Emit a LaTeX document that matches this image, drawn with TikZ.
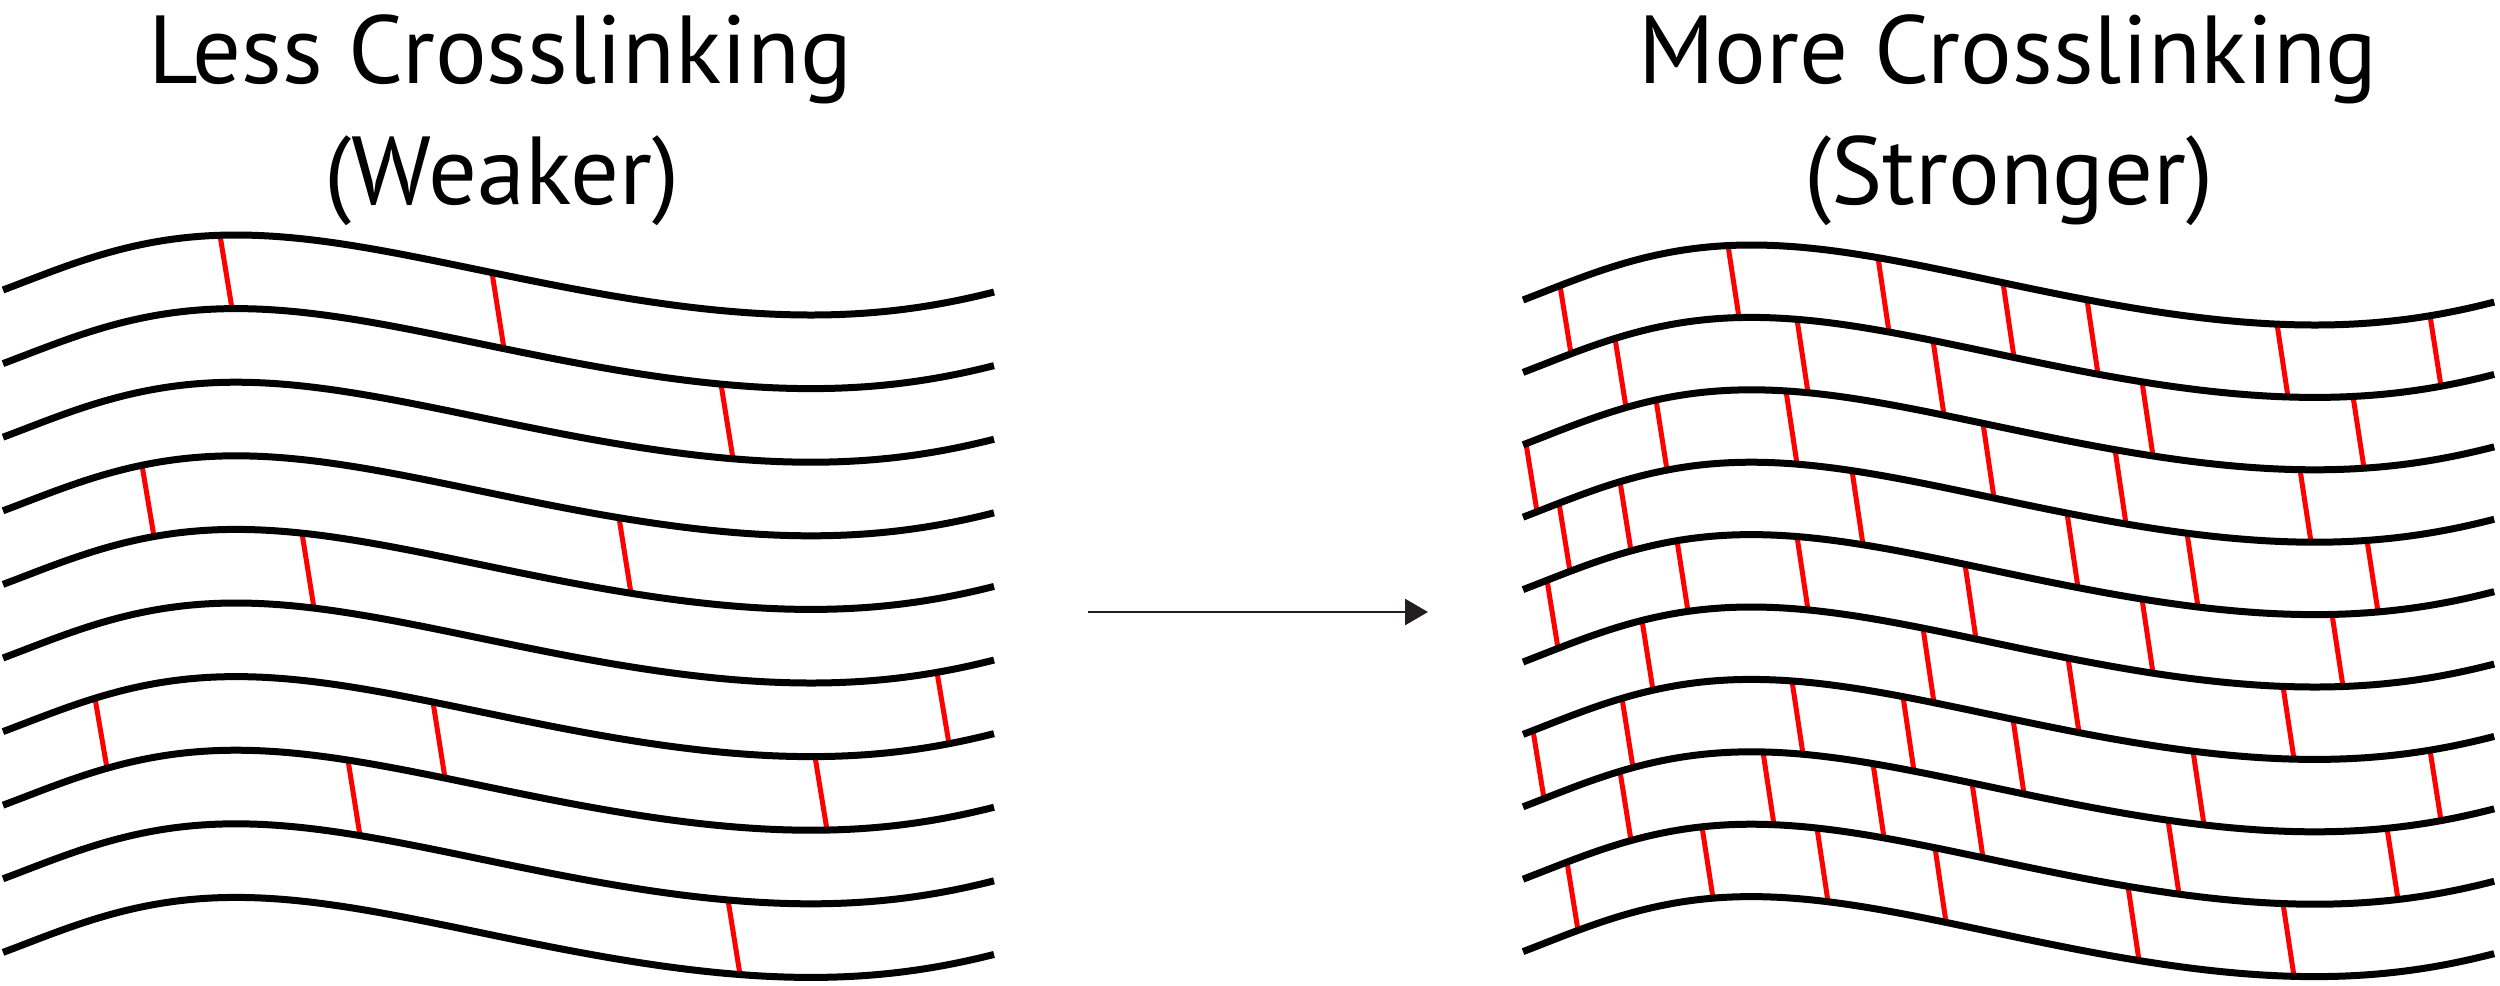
\documentclass[tikz,border=0pt]{standalone}
\usepackage{fontspec}
\setmainfont{PT Sans}
\usetikzlibrary{arrows.meta}
\definecolor{linkred}{RGB}{255,0,0}
\definecolor{arrowgray}{RGB}{35,31,32}
\tikzset{
  declare function={
    wph(\u) = -112 + 578.735*(\u/1000) - 482.3*(\u/1000)^2 + 264.0*(\u/1000)^3;
    wv(\u) = -15-40*cos(wph(\u));
  },
  wave/.style={line width=0.14cm, black},
  xlink/.style={line width=0.1cm, linkred},
  titletext/.style={font=\fontsize{55}{60}\selectfont, anchor=base, inner sep=0pt},
  flowarrow/.style={line width=0.054cm, arrowgray, -{Triangle[length=0.46cm,width=0.52cm]}}
}
% left panel crosslink: gap index, x of top end
\newcommand\Llink[2]{\draw[xlink] ({#2},{290+(#1-1)*73.6+wv(#2-3)}) -- ({#2+12},{290+#1*73.6+wv(#2+9)});}
% right panel crosslink
\newcommand\Rlink[2]{\draw[xlink] ({#2},{300+(#1-1)*72.4+wv((#2-1523)/0.98)}) -- ({#2+11},{300+#1*72.4+wv((#2-1512)/0.98)});}

\begin{document}
\begin{tikzpicture}[x=0.02cm,y=-0.02cm]
\useasboundingbox (0,0) rectangle (2500,985);

\node[titletext] (lefttitle) at (500,83) {Less Crosslinking};
\node[titletext] (leftsub) at (502,204) {(Weaker)};
\node[titletext] (righttitle) at (2008,83) {More Crosslinking};
\node[titletext] (rightsub) at (2009,204) {(Stronger)};

% left crosslinks
\Llink{1}{220} \Llink{1}{492}
\Llink{2}{721}
\Llink{4}{142} \Llink{4}{619}
\Llink{5}{302}
\Llink{6}{937}
\Llink{7}{95} \Llink{7}{433} \Llink{7}{815}
\Llink{8}{348}
\Llink{9}{728}

% right crosslinks
\foreach \xx in {1560,1728,1878,2003,2087,2277,2430} {\Rlink{1}{\xx}}
\foreach \xx in {1615,1797,1933,2142,2353} {\Rlink{2}{\xx}}
\foreach \xx in {1526,1656,1786,1983,2115,2300} {\Rlink{3}{\xx}}
\foreach \xx in {1559,1620,1852,2067,2187,2367} {\Rlink{4}{\xx}}
\foreach \xx in {1547,1677,1797,1965,2142,2332} {\Rlink{5}{\xx}}
\foreach \xx in {1642,1923,2068,2283} {\Rlink{6}{\xx}}
\foreach \xx in {1533,1622,1792,1903,2013,2193,2430} {\Rlink{7}{\xx}}
\foreach \xx in {1620,1763,1873,1972,2168,2387} {\Rlink{8}{\xx}}
\foreach \xx in {1567,1702,1817,1935,2128,2283} {\Rlink{9}{\xx}}

% fibres
\foreach \k in {0,...,9} {
  \draw[wave] plot[domain=0:991, samples=140, smooth] ({3+\x}, {290+\k*73.6+wv(\x)});
  \draw[wave] plot[domain=0:991, samples=140, smooth] ({1523+0.98*\x}, {300+\k*72.4+wv(\x)});
}

\coordinate (arrowtail) at (1088,612);
\coordinate (arrowtip) at (1428,612);
\draw[flowarrow] (arrowtail) -- (arrowtip);
\end{tikzpicture}
\end{document}
